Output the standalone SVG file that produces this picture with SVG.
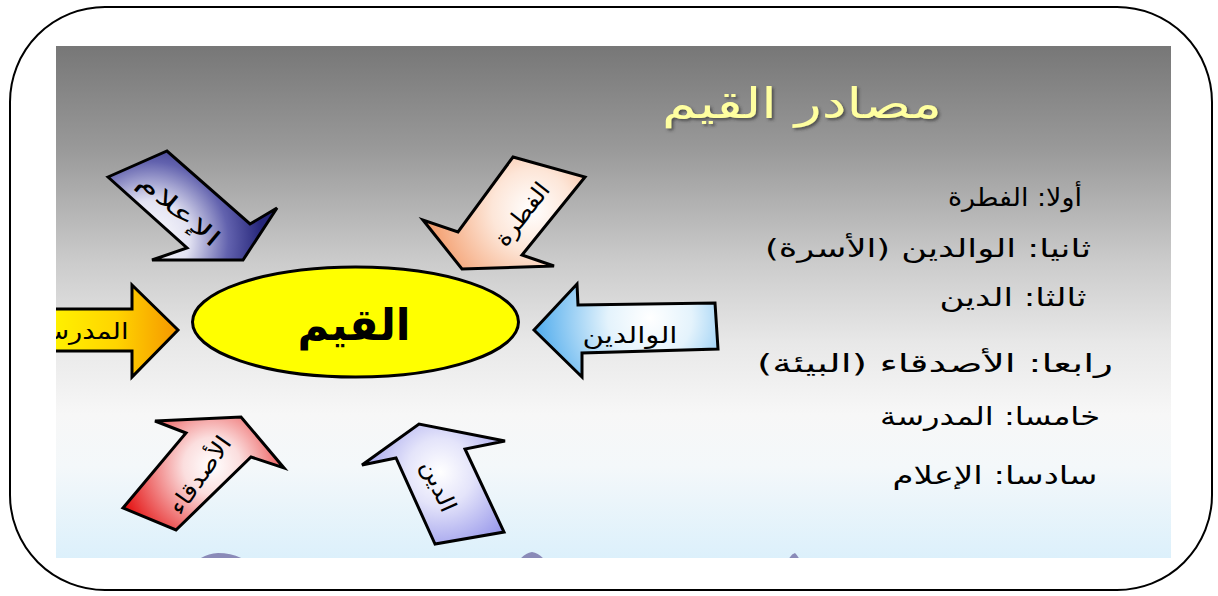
<svg xmlns="http://www.w3.org/2000/svg" width="1218" height="596" viewBox="0 0 1218 596">
<defs>
  <linearGradient id="bg" x1="0" y1="46" x2="0" y2="558" gradientUnits="userSpaceOnUse">
    <stop offset="0" stop-color="#777777"/>
    <stop offset="0.2" stop-color="#999999"/>
    <stop offset="0.42" stop-color="#cbcbcb"/>
    <stop offset="0.58" stop-color="#e8e8e8"/>
    <stop offset="0.72" stop-color="#f7f7f7"/>
    <stop offset="0.82" stop-color="#f4f8fa"/>
    <stop offset="1" stop-color="#dcf0fb"/>
  </linearGradient>
  <radialGradient id="gNavy" cx="150" cy="240" r="112" gradientUnits="userSpaceOnUse">
    <stop offset="0" stop-color="#ffffff"/>
    <stop offset="0.35" stop-color="#e2e2f2"/>
    <stop offset="0.7" stop-color="#6262ae"/>
    <stop offset="1" stop-color="#26267a"/>
  </radialGradient>
  <radialGradient id="gPeach" cx="532" cy="210" r="100" gradientUnits="userSpaceOnUse">
    <stop offset="0" stop-color="#ffffff"/>
    <stop offset="0.4" stop-color="#fde6d8"/>
    <stop offset="1" stop-color="#f4a274"/>
  </radialGradient>
  <radialGradient id="gSky" cx="650" cy="318" r="120" gradientUnits="userSpaceOnUse">
    <stop offset="0" stop-color="#ffffff"/>
    <stop offset="0.35" stop-color="#e4f3fc"/>
    <stop offset="1" stop-color="#48a8ec"/>
  </radialGradient>
  <linearGradient id="gYellow" x1="56" y1="0" x2="178" y2="0" gradientUnits="userSpaceOnUse">
    <stop offset="0" stop-color="#fff000"/>
    <stop offset="0.5" stop-color="#ffd400"/>
    <stop offset="1" stop-color="#f59600"/>
  </linearGradient>
  <radialGradient id="gRed" cx="212" cy="466" r="95" gradientUnits="userSpaceOnUse">
    <stop offset="0" stop-color="#ffffff"/>
    <stop offset="0.3" stop-color="#fbdede"/>
    <stop offset="1" stop-color="#e41414"/>
  </radialGradient>
  <radialGradient id="gLav" cx="440" cy="472" r="95" gradientUnits="userSpaceOnUse">
    <stop offset="0" stop-color="#ffffff"/>
    <stop offset="0.35" stop-color="#e4e4fa"/>
    <stop offset="1" stop-color="#8a8ae8"/>
  </radialGradient>
  <clipPath id="inner">
    <rect x="56" y="46" width="1115" height="512"/>
  </clipPath>
  <filter id="shadow" x="-10%" y="-30%" width="120%" height="160%">
    <feDropShadow dx="2" dy="2" stdDeviation="1.5" flood-color="#333333" flood-opacity="0.7"/>
  </filter>
  <style>
    .arrow { stroke: #000000; stroke-width: 3; stroke-linejoin: miter; }
    .lbl { font-family: 'DejaVu Sans', sans-serif; font-size: 23px; fill: #000000; text-anchor: middle; }
    .item { font-family: 'DejaVu Sans', sans-serif; font-size: 25px; fill: #000000; text-anchor: middle; }
  </style>
</defs>

<rect x="10" y="7" width="1202" height="583" rx="95" ry="95" fill="#ffffff" stroke="#000000" stroke-width="2"/>

<g id="background">
  <rect x="56" y="46" width="1115" height="512" fill="url(#bg)"/>
  <g clip-path="url(#inner)" fill="#8a8ab8">
    <path d="M195 562 Q205 554 218 553 Q235 553 248 562 Z"/>
    <path d="M518 562 Q524 553 532 552 Q540 553 546 562 Z"/>
    <path d="M787 562 Q791 554 795 553 Q798 556 801 562 Z"/>
  </g>
</g>

<g id="title">
  <text x="802" y="118" font-family="'DejaVu Sans', sans-serif" font-size="42" fill="#ffffa0" text-anchor="middle" textLength="280" lengthAdjust="spacingAndGlyphs" filter="url(#shadow)">مصادر القيم</text>
</g>

<g id="connectors">
  <g id="arrow-media">
    <polygon class="arrow" fill="url(#gNavy)" points="108,177 167,151 250,224 277,208 243,260 152,260 187,248"/>
    <text class="lbl" transform="translate(179,210) rotate(40)" y="8" textLength="100" lengthAdjust="spacingAndGlyphs">الإعلام</text>
  </g>
  <g id="arrow-fitra">
    <polygon class="arrow" fill="url(#gPeach)" points="513,157 585,177 522,255 554,266 462,269 423,220 458,232"/>
    <text class="lbl" transform="translate(522,214) rotate(-52)" y="8" textLength="74" lengthAdjust="spacingAndGlyphs">الفطرة</text>
  </g>
  <g id="arrow-parents">
    <polygon class="arrow" fill="url(#gSky)" points="534,330 577,284 578,305 715,303 718,349 582,353 582,377"/>
    <text class="lbl" x="630" y="343" textLength="95" lengthAdjust="spacingAndGlyphs">الوالدين</text>
  </g>
  <g id="arrow-school" clip-path="url(#inner)">
    <polygon class="arrow" fill="url(#gYellow)" points="40,309 132,309 132,285 178,330 132,377 132,351 40,351"/>
    <text class="lbl" x="80" y="339" textLength="97" lengthAdjust="spacingAndGlyphs">المدرسة</text>
  </g>
  <g id="arrow-friends">
    <polygon class="arrow" fill="url(#gRed)" points="123,508 186,433 155,421 241,417 284,468 251,457 176,530"/>
    <text class="lbl" transform="translate(200,475) rotate(-55)" y="8" textLength="90" lengthAdjust="spacingAndGlyphs">الأصدقاء</text>
  </g>
  <g id="arrow-religion">
    <polygon class="arrow" fill="url(#gLav)" points="435,544 396,458 362,465 419,424 505,441 465,449 504,532"/>
    <text class="lbl" transform="translate(439,486) rotate(66)" y="8" textLength="54" lengthAdjust="spacingAndGlyphs">الدين</text>
  </g>
</g>

<g id="center-node">
  <ellipse cx="355.5" cy="322" rx="163" ry="55" fill="#ffff00" stroke="#000000" stroke-width="3"/>
  <text x="354" y="340" font-family="'DejaVu Sans', sans-serif" font-size="44" font-weight="bold" fill="#000000" text-anchor="middle" textLength="113" lengthAdjust="spacingAndGlyphs">القيم</text>
</g>

<g id="list">
  <text class="item" x="1015" y="206" textLength="134" lengthAdjust="spacingAndGlyphs">أولا: الفطرة</text>
  <text class="item" x="928" y="257" textLength="326" lengthAdjust="spacingAndGlyphs">ثانيا:  الوالدين  (الأسرة)</text>
  <text class="item" x="1013" y="306" textLength="147" lengthAdjust="spacingAndGlyphs">ثالثا:  الدين</text>
  <text class="item" x="935" y="372" textLength="356" lengthAdjust="spacingAndGlyphs">رابعا:  الأصدقاء  (البيئة)</text>
  <text class="item" x="990" y="425" textLength="220" lengthAdjust="spacingAndGlyphs">خامسا:  المدرسة</text>
  <text class="item" x="995" y="484" textLength="205" lengthAdjust="spacingAndGlyphs">سادسا:  الإعلام</text>
</g>
</svg>
